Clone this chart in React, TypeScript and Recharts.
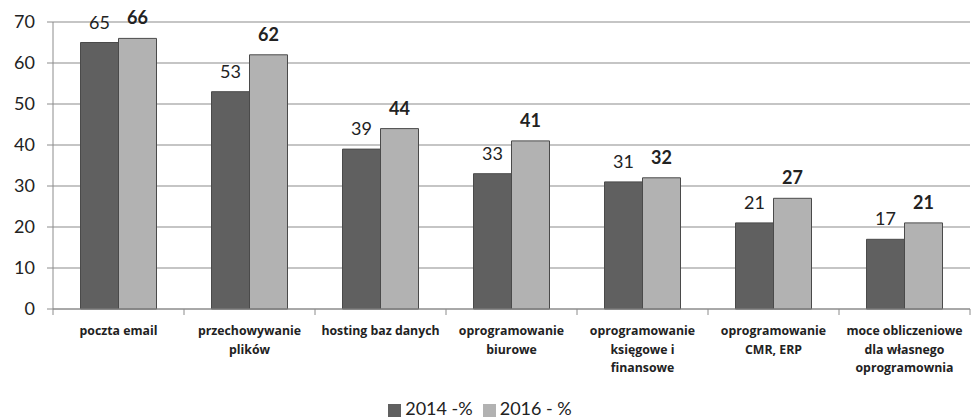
import React from 'react';
import { BarChart, Bar, XAxis, YAxis, CartesianGrid, Legend, LabelList } from 'recharts';

const categories = [
  'poczta email',
  'przechowywanie plików',
  'hosting baz danych',
  'oprogramowanie biurowe',
  'oprogramowanie księgowe i finansowe',
  'oprogramowanie CMR, ERP',
  'moce obliczeniowe dla własnego oprogramownia',
];

// how each category label is broken into lines under the axis
const labelLines = [
  ['poczta email'],
  ['przechowywanie', 'plików'],
  ['hosting baz danych'],
  ['oprogramowanie', 'biurowe'],
  ['oprogramowanie', 'księgowe i', 'finansowe'],
  ['oprogramowanie', 'CMR, ERP'],
  ['moce obliczeniowe', 'dla własnego', 'oprogramownia'],
];

const values2014 = [65, 53, 39, 33, 31, 21, 17];
const values2016 = [66, 62, 44, 41, 32, 27, 21];
const yTicks = [0, 10, 20, 30, 40, 50, 60, 70];

const data = categories.map((name, i) => ({
  name,
  y2014: values2014[i],
  y2016: values2016[i],
}));

const FONT = 'Lato, "Open Sans", sans-serif';
const LABEL_FONT = '"Open Sans", Lato, sans-serif';
const DARK = '#606060';
const LIGHT = '#b2b2b2';
const EDGE = '#4a4a4a';
const AXIS = '#8c8c8c';

const CategoryTick = (props: any) => {
  const { x, y, payload, index, width } = props;
  const band = (width ?? 917) / categories.length;
  const lines: string[] = labelLines[index] ?? [payload.value];
  return (
    <g>
      <line x1={x - band / 2} y1={y - 8} x2={x - band / 2} y2={y - 2} stroke={AXIS} />
      {index === categories.length - 1 && (
        <line x1={x + band / 2} y1={y - 8} x2={x + band / 2} y2={y - 2} stroke={AXIS} />
      )}
      <text x={x} y={y} textAnchor="middle" fontFamily={LABEL_FONT} fontSize={12.3} fontWeight="bold" fill="#222">
        {lines.map((l, k) => (
          <tspan key={k} x={x} dy={k === 0 ? 18 : 18.5}>
            {l}
          </tspan>
        ))}
      </text>
    </g>
  );
};

const App: React.FC = () => {
  return (
    <div style={{ position: 'absolute', left: 0, top: 0, width: 971, height: 419, background: '#fff' }}>
      <BarChart
        width={971}
        height={419}
        data={data}
        margin={{ top: 22, right: 1, left: 0, bottom: 0 }}
        barCategoryGap="21%"
        barGap={0}
      >
        <CartesianGrid vertical={false} stroke={AXIS} strokeWidth={1.2} />
        <XAxis
          dataKey="name"
          interval={0}
          height={90}
          axisLine={{ stroke: AXIS }}
          tickLine={false}
          tick={<CategoryTick />}
        />
        <YAxis
          domain={[0, 70]}
          ticks={yTicks}
          width={53}
          axisLine={{ stroke: AXIS }}
          tickLine={{ stroke: AXIS }}
          tickSize={6}
          tickMargin={12}
          tick={{ fill: '#222', fontSize: 18, fontFamily: FONT }}
        />
        <Legend
          verticalAlign="bottom"
          height={20}
          iconType="square"
          iconSize={13}
          wrapperStyle={{ fontFamily: FONT, fontSize: 18, color: '#222', bottom: 2 }}
          formatter={(v: string) => <span style={{ color: '#222' }}>{v}</span>}
        />
        <Bar dataKey="y2014" name="2014 -%" fill={DARK} stroke={EDGE} isAnimationActive={false}>
          <LabelList dataKey="y2014" position="top" offset={14} fill="#222" fontSize={18} fontFamily={FONT} />
        </Bar>
        <Bar dataKey="y2016" name="2016 - %" fill={LIGHT} stroke={EDGE} isAnimationActive={false}>
          <LabelList
            dataKey="y2016"
            position="top"
            offset={14}
            fill="#222"
            fontSize={18}
            fontWeight="bold"
            fontFamily={FONT}
          />
        </Bar>
      </BarChart>
    </div>
  );
};

export default App;
